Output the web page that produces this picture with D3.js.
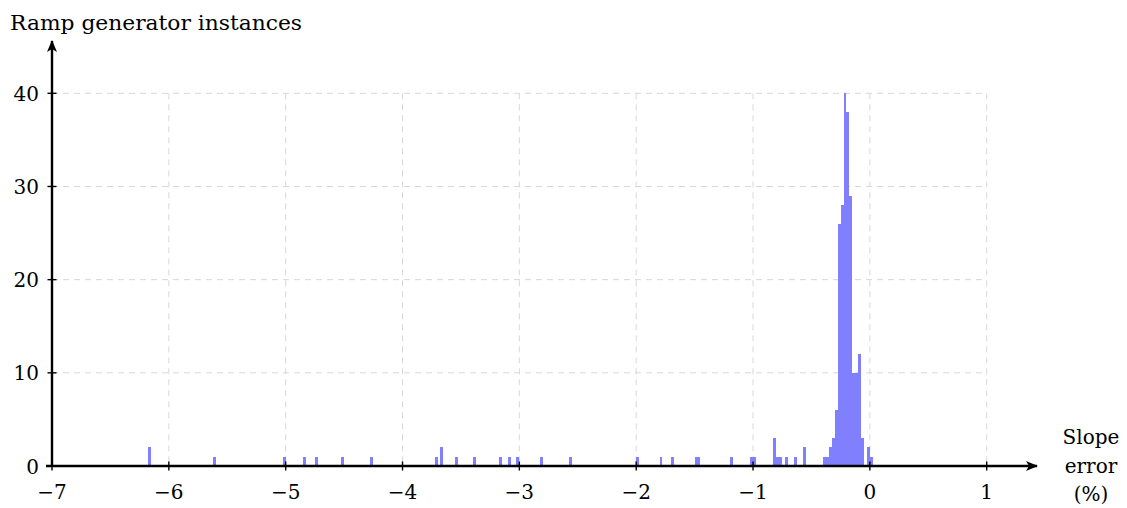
<!DOCTYPE html>
<html><head><meta charset="utf-8">
<script src="https://cdn.jsdelivr.net/npm/d3@7/dist/d3.min.js"></script>
<style>
body{margin:0;background:#fff;}
svg{display:block;}
text{font-family:"DejaVu Serif",serif;fill:#000;}
</style></head>
<body><svg id="chart" width="1127" height="508"></svg>
<script>
// Histogram data: left edge of each bin (slope error in %) and count
const binWidth = 0.025;
const binLeft = [-6.175,-5.625,-5.025,-4.85,-4.75,-4.525,-4.275,-3.725,-3.675,-3.55,-3.4,-3.175,-3.1,-3.025,-2.825,-2.575,
  -2.0,-1.8,-1.7,-1.5,-1.475,-1.2,-1.025,-1.0,-0.825,-0.8,-0.775,-0.725,-0.65,-0.575,
  -0.4,-0.375,-0.35,-0.325,-0.3,-0.275,-0.25,-0.225,-0.2,-0.175,-0.15,-0.125,-0.1,-0.075,-0.025,0.0];
const counts = [2,1,1,1,1,1,1,1,2,1,1,1,1,1,1,1,
  1,1,1,1,1,1,1,1,3,1,1,1,1,2,
  1,1,2,3,6,26,28,40,38,29,10,10,12,3,2,1];
const xTicks = [-7,-6,-5,-4,-3,-2,-1,0,1];
const yTicks = [0,10,20,30,40];
const yLabel = "Ramp generator instances";
const xLabelLines = ["Slope","error","(%)"];

const svg = d3.select("#chart");
const x = d3.scaleLinear().domain([-7,1]).range([52,986.7]);
const y = d3.scaleLinear().domain([0,40]).range([466,93.3]);

// grid
const grid = svg.append("g").attr("stroke","#d8d8d8").attr("stroke-width",1).attr("stroke-dasharray","6,5");
grid.selectAll("line.v").data(xTicks.filter(d=>d>-7)).enter().append("line")
  .attr("x1",d=>x(d)).attr("x2",d=>x(d)).attr("y1",y(40)).attr("y2",y(0));
grid.selectAll("line.h").data(yTicks.filter(d=>d>0)).enter().append("line")
  .attr("y1",d=>y(d)).attr("y2",d=>y(d)).attr("x1",x(-7)).attr("x2",x(1));

// bars
const data = binLeft.map((b,i)=>({x0:b,x1:b+binWidth,c:counts[i]}));
svg.append("g").attr("shape-rendering","crispEdges").selectAll("rect").data(data).enter().append("rect")
  .attr("x",d=>Math.round(x(d.x0))).attr("width",d=>Math.round(x(d.x1))-Math.round(x(d.x0)))
  .attr("y",d=>Math.round(y(d.c))).attr("height",d=>Math.round(y(0))-Math.round(y(d.c)))
  .attr("fill","#8080ff");

// axes
const defs = svg.append("defs");
defs.append("marker").attr("id","arr").attr("viewBox","0 0 12 10").attr("refX",11).attr("refY",5)
  .attr("markerWidth",12).attr("markerHeight",10).attr("markerUnits","userSpaceOnUse").attr("orient","auto")
  .append("path").attr("d","M0,0 L12,5 L0,10 L3,5 Z").attr("fill","#000");

svg.append("line").attr("x1",x(-7)-6).attr("x2",1037).attr("y1",y(0)).attr("y2",y(0))
  .attr("stroke","#000").attr("stroke-width",2.4).attr("marker-end","url(#arr)");
svg.append("line").attr("x1",x(-7)).attr("x2",x(-7)).attr("y1",y(0)+1).attr("y2",41)
  .attr("stroke","#000").attr("stroke-width",2.4).attr("marker-end","url(#arr)");

// ticks
svg.append("g").selectAll("line").data(xTicks).enter().append("line")
  .attr("x1",d=>x(d)).attr("x2",d=>x(d)).attr("y1",y(0)-4.5).attr("y2",y(0)+4.5)
  .attr("stroke","#000").attr("stroke-width",1.4);
svg.append("g").selectAll("line").data(yTicks).enter().append("line")
  .attr("y1",d=>y(d)).attr("y2",d=>y(d)).attr("x1",x(-7)-4.5).attr("x2",x(-7)+4.5)
  .attr("stroke","#000").attr("stroke-width",1.4);

const fmt = d => d<0 ? "\u2212"+Math.abs(d) : String(d);
svg.append("g").selectAll("text").data(xTicks).enter().append("text")
  .attr("x",d=>x(d)).attr("y",y(0)+33).attr("text-anchor","middle")
  .attr("font-size",20).text(fmt);
svg.append("g").selectAll("text").data(yTicks).enter().append("text")
  .attr("x",x(-7)-13).attr("y",d=>y(d)+7.5).attr("text-anchor","end")
  .attr("font-size",20).text(fmt);

svg.append("text").attr("x",10).attr("y",30).attr("font-size",20)
  .attr("textLength",292).attr("lengthAdjust","spacingAndGlyphs").text(yLabel);
svg.append("g").selectAll("text").data(xLabelLines).enter().append("text")
  .attr("x",1091).attr("y",(d,i)=>444+i*28.5).attr("text-anchor","middle")
  .attr("font-size",20).text(d=>d);
</script></body></html>
